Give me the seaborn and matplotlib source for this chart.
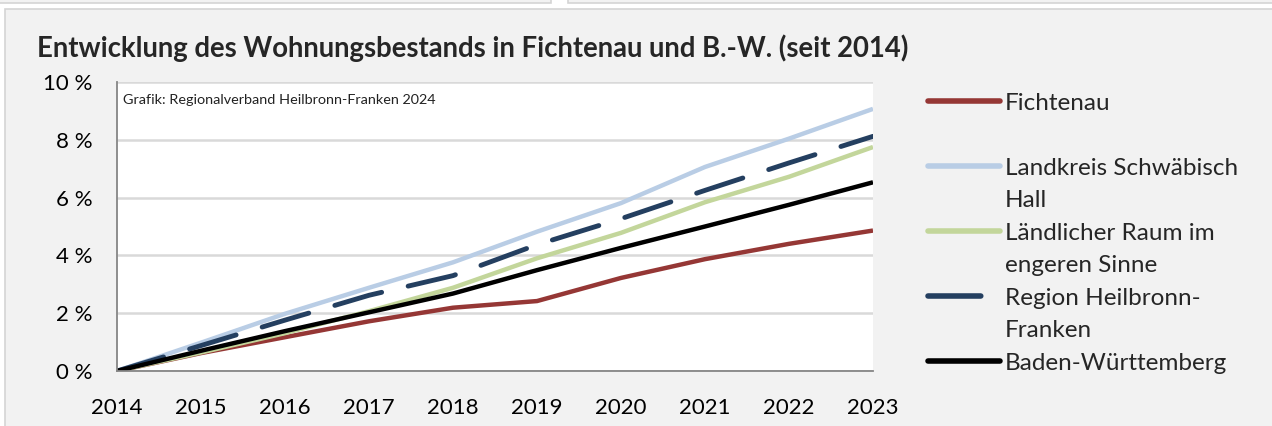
import matplotlib
matplotlib.use("Agg")
import matplotlib.pyplot as plt
import seaborn as sns
import pandas as pd
from matplotlib.lines import Line2D
from matplotlib.patches import Rectangle

# ---------------- data ----------------
years = [2014, 2015, 2016, 2017, 2018, 2019, 2020, 2021, 2022, 2023]
fichtenau = [0.0, 0.62, 1.17, 1.72, 2.19, 2.42, 3.22, 3.87, 4.40, 4.86]
landkreis_sha = [0.0, 0.98, 1.98, 2.88, 3.76, 4.82, 5.81, 7.06, 8.04, 9.07]
laendlicher_raum = [0.0, 0.64, 1.31, 2.07, 2.88, 3.90, 4.78, 5.84, 6.72, 7.75]
region_hnf = [0.0, 0.88, 1.76, 2.62, 3.30, 4.37, 5.27, 6.25, 7.20, 8.12]
baden_wuerttemberg = [0.0, 0.70, 1.38, 2.03, 2.68, 3.49, 4.26, 5.00, 5.75, 6.53]

series_names = ["Fichtenau", "Landkreis Schwäbisch Hall", "Ländlicher Raum im engeren Sinne",
                "Region Heilbronn-Franken", "Baden-Württemberg"]
series_values = [fichtenau, landkreis_sha, laendlicher_raum, region_hnf, baden_wuerttemberg]
# legend rows as they wrap in the original (handle on first line of each entry)
legend_rows = [("Fichtenau", 0), ("", None), ("Landkreis Schwäbisch", 1), ("Hall", None),
               ("Ländlicher Raum im", 2), ("engeren Sinne", None),
               ("Region Heilbronn-", 3), ("Franken", None), ("Baden-Württemberg", 4)]
y_ticks = [0, 2, 4, 6, 8, 10]
title = "Entwicklung des Wohnungsbestands in Fichtenau und B.-W. (seit 2014)"
source_note = "Grafik: Regionalverband Heilbronn-Franken 2024"

colors = ["#953735", "#B9CDE5", "#C3D69B", "#243F60", "#000000"]
dash_styles = ["", "", "", (10, 5.6), ""]

# ---------------- build ----------------
df = pd.DataFrame({
    "Jahr": years * len(series_names),
    "Wert": [v for vals in series_values for v in vals],
    "Serie": [n for n in series_names for _ in years],
})

sns.set_theme(style="white")
plt.rcParams['font.family'] = ['Lato', 'DejaVu Sans']

W, H = 1272, 426
fig = plt.figure(figsize=(W / 100, H / 100), dpi=100, facecolor="white")

# panel decorations (Excel frame look)
fig.patches.append(Rectangle((5 / W, -0.1), 1.2, 1 - 9 / H + 0.1, transform=fig.transFigure,
                             facecolor="#F2F2F2", edgecolor="#D4D4D4", lw=1.2, zorder=-10))
fig.patches.append(Rectangle((-0.01, 1 - 3 / H), 551 / W + 0.01, 0.1, transform=fig.transFigure,
                             facecolor="#F2F2F2", edgecolor="#D4D4D4", lw=1.2, zorder=-10))
fig.patches.append(Rectangle((568 / W, 1 - 3 / H), 0.7, 0.1, transform=fig.transFigure,
                             facecolor="#F2F2F2", edgecolor="#D4D4D4", lw=1.2, zorder=-10))

ax = fig.add_axes([117 / W, 1 - 371 / H, (873 - 117) / W, (371 - 82) / H])
ax.set_facecolor("white")

palette = dict(zip(series_names, colors))
dashes = dict(zip(series_names, dash_styles))
sns.lineplot(data=df, x="Jahr", y="Wert", hue="Serie", style="Serie",
             hue_order=series_names, style_order=series_names,
             palette=palette, dashes=dashes, linewidth=3.2, ax=ax, legend=False)
for line in ax.get_lines():
    line.set_dash_capstyle("round")
    line.set_solid_capstyle("butt")
ax.get_lines()[3].set_linewidth(3.5)

ax.set_xlim(years[0], years[-1])
ax.set_ylim(0, 10)
ax.set_xticks(years)
ax.set_xticklabels([str(y) for y in years])
ax.set_yticks(y_ticks)
ax.set_yticklabels([f"{t} %" for t in y_ticks])
ax.set_xlabel("")
ax.set_ylabel("")
ax.yaxis.grid(True, color="#D9D9D9", lw=1.8)
ax.set_axisbelow(True)
for s in ["top", "right"]:
    ax.spines[s].set_visible(False)
for s in ["left", "bottom"]:
    ax.spines[s].set_color("#868686")
    ax.spines[s].set_linewidth(1.3)
ax.tick_params(axis="both", which="major", direction="out", length=5.5, width=1.3,
               color="#868686", labelsize=16, labelcolor="black")
ax.tick_params(axis="x", pad=14)
ax.tick_params(axis="y", pad=12)

ax.text(6 / 756, 0.938, source_note, transform=ax.transAxes, fontsize=10.4,
        ha="left", va="center", color="#222222")

fig.text(37 / W, 1 - 48 / H, title, fontsize=19.8, fontweight="bold", ha="left", va="center")

# legend (wrapped like the original)
lines = ax.get_lines()
handles, labels = [], []
for text, idx in legend_rows:
    if idx is None:
        handles.append(Line2D([], [], color="none"))
    else:
        src = lines[idx]
        h = Line2D([], [], color=src.get_color(), lw=4.0,
                   linestyle=src.get_linestyle(), solid_capstyle="round",
                   dash_capstyle="round")
        if idx == 3:
            h.set_dashes((9.5, 5))
        handles.append(h)
    labels.append(text)

fs = 17.5
fig.legend(handles, labels, loc="upper left",
           bbox_to_anchor=(928 / W, 1 - 92.5 / H), frameon=False, fontsize=fs,
           handlelength=72 / (fs * 100 / 72), handletextpad=0.2, labelspacing=0.475,
           borderpad=0, borderaxespad=0)

fig.savefig("out.png", dpi=100, facecolor=fig.get_facecolor())
